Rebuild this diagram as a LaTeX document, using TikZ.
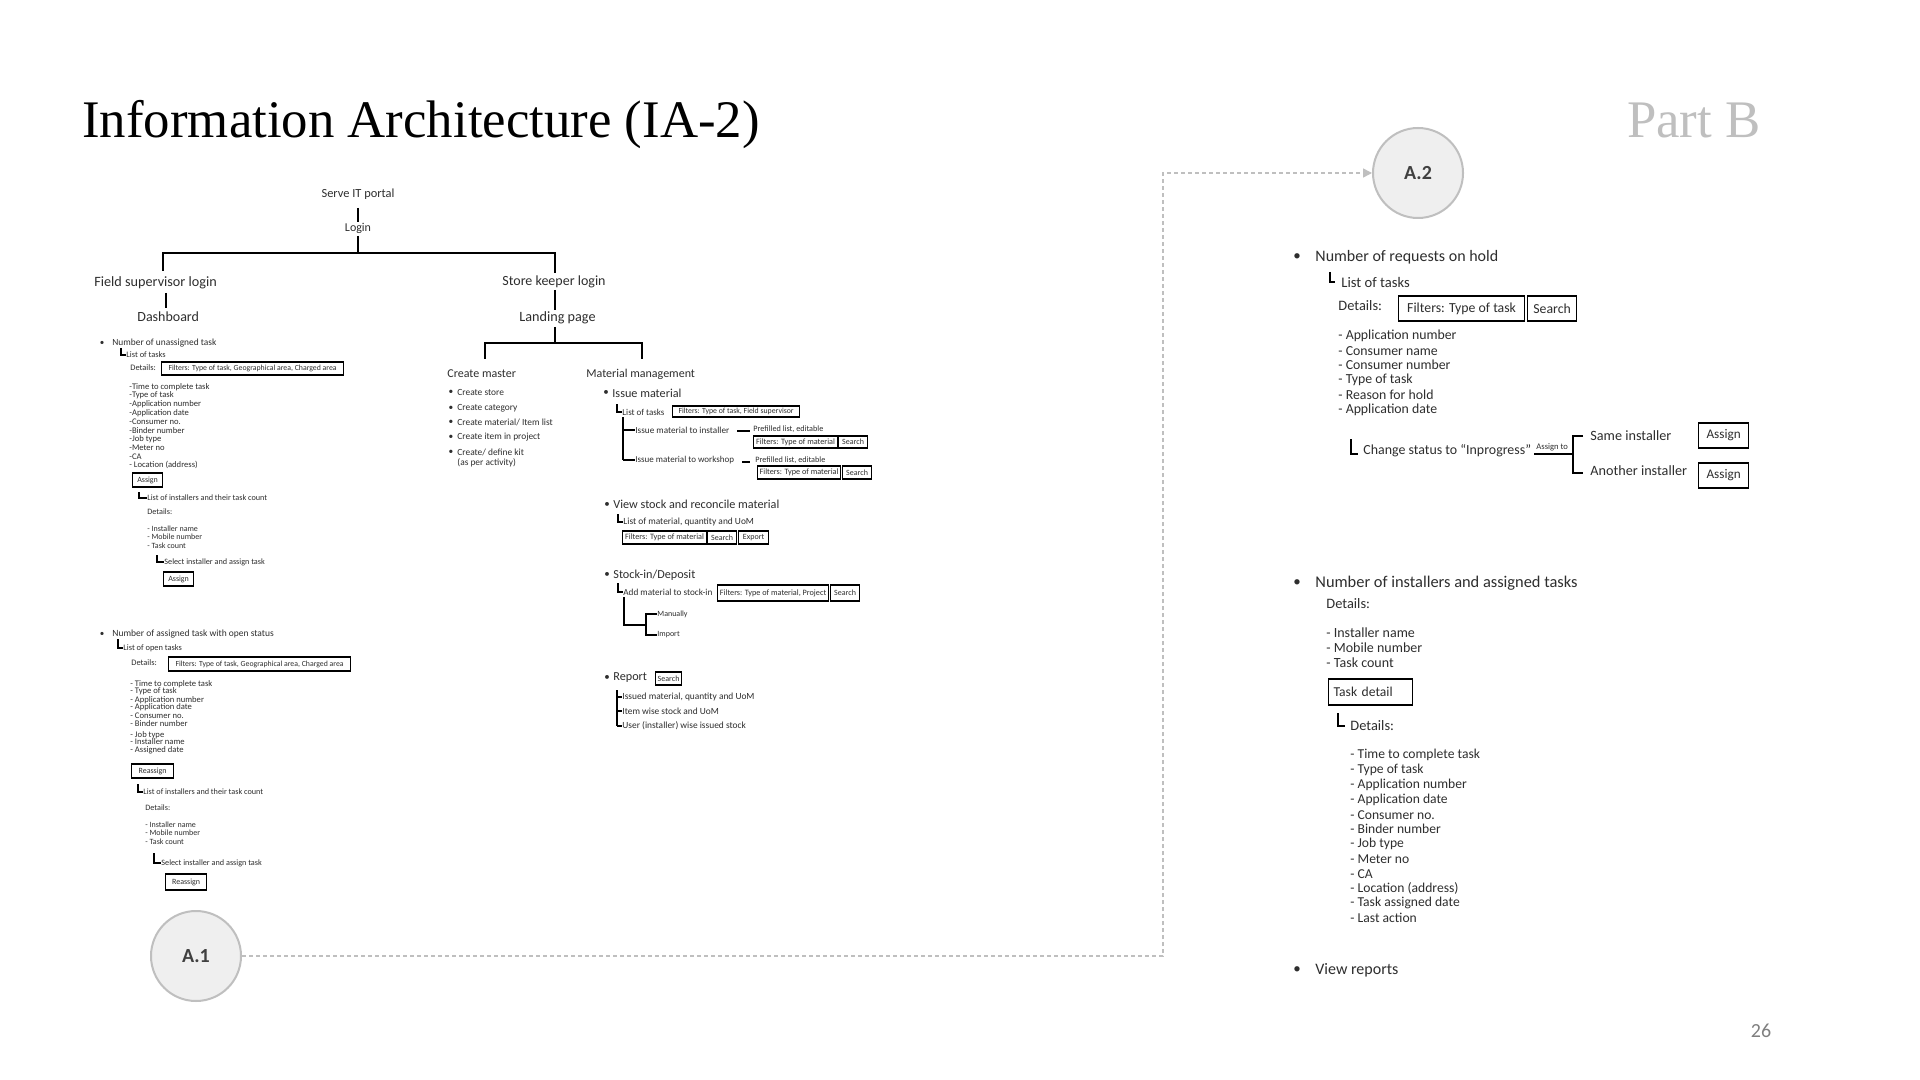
\documentclass[tikz,border=0pt]{standalone}
\usepackage{fontspec}
\setmainfont{Carlito}
\newfontfamily\titlefont{Liberation Serif}
\usetikzlibrary{arrows.meta}
\definecolor{txt}{HTML}{2E2E2E}
\definecolor{circfill}{HTML}{EFEFEF}
\definecolor{circline}{HTML}{BFBFBF}
\definecolor{partb}{HTML}{BFBFBF}
\definecolor{pgno}{HTML}{7F7F7F}
\newcommand\myfs[1]{\fontsize{#1pt}{#1pt}\selectfont}
\tikzset{
  lbl/.style={anchor=west, inner sep=0pt, text=txt, font=\myfs{#1}},
  ctr/.style={anchor=center, inner sep=0pt, text=txt, font=\myfs{#1}},
  bul/.style={anchor=center, inner sep=0pt, text=txt, font=\myfs{#1}},
  bx/.style={draw=black, line width=0.6pt, inner sep=0pt, anchor=west, text=txt, font=\myfs{#1}},
  wh/.style 2 args={minimum width=#1*0.5pt, minimum height=#2*0.5pt},
  tree/.style={line width=0.9pt, draw=black},
  conn/.style={line width=0.75pt, draw=black},
  circ/.style={circle, draw=circline, fill=circfill, line width=1pt, minimum size=45pt, inner sep=0pt, font=\bfseries\myfs{10}, text=black!75},
  dsh/.style={draw=circline, line width=0.75pt, dash pattern=on 2pt off 1.5pt}
}
\begin{document}
\begin{tikzpicture}[x=0.5pt,y=-0.5pt]
\fill[white] (0,0) rectangle (1920,1080);
\useasboundingbox (0,0) rectangle (1920,1080);

% title
\node[anchor=base west, inner sep=0pt, font=\titlefont\myfs{26.4}, text=black] (title) at (82,138) {Information Architecture (IA-2)};
\node[anchor=base east, inner sep=0pt, font=\titlefont\myfs{26.4}, text=partb] (partb) at (1761,138) {Part B};
\node[anchor=center, inner sep=0pt, font=\myfs{10}, text=pgno] (pg) at (1761,1031) {26};

% circles and dashed link
\node[circ] (a2) at (1418,173) {A.2};
\node[circ] (a1) at (196,956) {A.1};
\coordinate (d1) at (1163,956);
\coordinate (d2) at (1163,173);
\draw[dsh, -{Triangle[length=4.5pt,width=4.5pt]}] (a1.east) -- (d1) -- (d2) -- (a2.west);

% ---------------- top tree ----------------
\node[ctr=6.2] (serve) at (358,194) {Serve IT portal};
\node[ctr=6] (login) at (358,228) {Login};
\draw[tree] (358,208) -- (358,222);
\draw[tree] (358,236) -- (358,253);
\draw[tree] (163,271) -- (163,253) -- (555,253) -- (555,273);
\node[lbl=7.1] (fsl) at (94,283) {Field supervisor login};
\draw[tree] (166,293) -- (166,308);
\node[lbl=7] (dash) at (137,317) {Dashboard};
\node[lbl=7] (skl) at (502,282) {Store keeper login};
\draw[tree] (555,290) -- (555,310);
\node[lbl=7.1] (land) at (519,318) {Landing page};
\draw[tree] (555,327) -- (555,343);
\draw[tree] (485,359) -- (485,343) -- (642,343) -- (642,359);

% ---------------- Create master ----------------
\node[lbl=6] (cm) at (447,374) {Create master};
\node[bul=4.7] (cb1) at (451,392) {•};
\node[lbl=4.7] (c1) at (457,392) {Create store};
\node[bul=4.7] (cb2) at (451,408) {•};
\node[lbl=4.7] (c2) at (457,408) {Create category};
\node[bul=4.7] (cb3) at (451,422.5) {•};
\node[lbl=4.7] (c3) at (457,422.5) {Create material/ Item list};
\node[bul=4.7] (cb4) at (451,437) {•};
\node[lbl=4.7] (c4) at (457,437) {Create item in project};
\node[bul=4.7] (cb5) at (451,452) {•};
\node[lbl=4.7] (c5) at (457,452) {Create/ define kit};
\node[lbl=4.7] (c6) at (457,463) {(as per activity)};

% ---------------- Material management ----------------
\node[lbl=6] (mm) at (586,374) {Material management};
\node[bul=5.5] (mb1) at (606,393) {•};
\node[lbl=6.1] (im) at (612,393) {Issue material};
\node[lbl=4.5] (imlot) at (622,412) {List of tasks};
\draw[conn] (617,404) |- (imlot.west);
\node[bx=3.9, wh={127}{11}] (imf) at (672,411.5) {Filters: Type of task, Field supervisor};
\draw[conn] (623,417) -- (623,460);
\node[lbl=4.6] (imi) at (635,430) {Issue material to installer};
\draw[conn] (623,430) -- (imi.west);
\draw[conn] (737,431) -- (750,431);
\node[lbl=4.1] (pl1) at (753,429) {Prefilled list, editable};
\node[bx=4.1, wh={84}{12}] (pf1) at (753,442) {Filters: Type of material};
\node[bx=4, wh={29}{12}] (ps1) at (838,442) {Search};
\node[lbl=4.5] (imw) at (635,460) {Issue material to workshop};
\draw[conn] (623,460) -- (imw.west);
\draw[conn] (742,462) -- (750,462);
\node[lbl=4.1] (pl2) at (755,460) {Prefilled list, editable};
\node[bx=4.1, wh={83}{13}] (pf2) at (757,472.5) {Filters: Type of material};
\node[bx=4, wh={29}{13}] (ps2) at (842,472.5) {Search};

\node[bul=5.5] (mb2) at (607,505) {•};
\node[lbl=6.1] (vs) at (613,504) {View stock and reconcile material};
\node[lbl=4.7] (vsl) at (623,522) {List of material, quantity and UoM};
\draw[conn] (618,514) |- (vsl.west);
\node[bx=4.1, wh={84}{13}] (vf) at (622,537.5) {Filters: Type of material};
\node[bx=4, wh={29}{13}] (vsr) at (707,537.5) {Search};
\node[bx=4, wh={30}{13}] (vex) at (738,537.5) {Export};

\node[bul=5.5] (mb3) at (607,575) {•};
\node[lbl=6.1] (si) at (613,575) {Stock-in/Deposit};
\node[lbl=4.6] (sia) at (623,592) {Add material to stock-in};
\draw[conn] (618,583) |- (sia.west);
\node[bx=4.1, wh={111}{16}] (sif) at (717,593) {Filters: Type of material, Project};
\node[bx=4, wh={29}{16}] (sis) at (830,593) {Search};
\draw[conn] (624,597) -- (624,625) -- (646,625);
\node[lbl=4] (man) at (657,614) {Manually};
\node[lbl=4] (imp) at (657,635) {Import};
\draw[conn] (man.west) -- (646,614) -- (646,635) -- (imp.west);

\node[bul=5.5] (mb4) at (607,678) {•};
\node[lbl=6.1] (rep) at (613,678) {Report};
\node[bx=4, wh={26}{13}] (rs) at (655,678.5) {Search};
\draw[conn] (617,690) -- (617,726);
\node[lbl=4.7] (r1) at (622,697) {Issued material, quantity and UoM};
\node[lbl=4.7] (r2) at (622,711) {Item wise stock and UoM};
\node[lbl=4.7] (r3) at (622,726) {User (installer) wise issued stock};
\draw[conn] (617,697) -- (r1.west);
\draw[conn] (617,711) -- (r2.west);
\draw[conn] (617,726) -- (r3.west);

% ---------------- Left column (A.1) part 1 ----------------
\node[bul=4.5] (lb1) at (102,343) {•};
\node[lbl=4.7] (un) at (112,343) {Number of unassigned task};
\node[lbl=4.2] (unl) at (126,355) {List of tasks};
\draw[conn] (121,348) |- (unl.west);
\node[lbl=4.2] (und) at (130,368) {Details:};
\node[bx=3.9, wh={182}{13}] (unf) at (161,368.5) {Filters: Type of task, Geographical area, Charged area};
\node[lbl=4.3] (u1) at (129,387) {-Time to complete task};
\node[lbl=4.3] (u2) at (129,395.7) {-Type of task};
\node[lbl=4.3] (u3) at (129,404.3) {-Application number};
\node[lbl=4.3] (u4) at (129,413) {-Application date};
\node[lbl=4.3] (u5) at (129,421.7) {-Consumer no.};
\node[lbl=4.3] (u6) at (129,430.3) {-Binder number};
\node[lbl=4.3] (u7) at (129,439) {-Job type};
\node[lbl=4.3] (u8) at (129,447.7) {-Meter no};
\node[lbl=4.3] (u9) at (129,456.3) {-CA};
\node[lbl=4.3] (u10) at (129,465) {- Location (address)};
\node[bx=4, wh={30}{14}] (ua) at (132,480) {Assign};
\node[lbl=4.1] (uli) at (147,498) {List of installers and their task count};
\draw[conn] (139,492) |- (uli.west);
\node[lbl=4.1] (uld) at (147,512) {Details:};
\node[lbl=4] (ui1) at (147,529) {- Installer name};
\node[lbl=4] (ui2) at (147,537) {- Mobile number};
\node[lbl=4] (ui3) at (147,546) {- Task count};
\node[lbl=4.1] (us) at (164,562) {Select installer and assign task};
\draw[conn] (157,555) |- (us.west);
\node[bx=4, wh={30}{14}] (ua2) at (163,579) {Assign};

% ---------------- Left column part 2 ----------------
\node[bul=4.5] (lb2) at (102,634) {•};
\node[lbl=4.75] (as) at (112,634) {Number of assigned task with open status};
\node[lbl=4.2] (asl) at (123,648) {List of open tasks};
\draw[conn] (118,639) |- (asl.west);
\node[lbl=4.2] (asd) at (131,663) {Details:};
\node[bx=3.9, wh={182}{14}] (asf) at (168,664) {Filters: Type of task, Geographical area, Charged area};
\node[lbl=4.3] (a01) at (130,684) {- Time to complete task};
\node[lbl=4.3] (a02) at (130,691.5) {- Type of task};
\node[lbl=4.3] (a03) at (130,700) {- Application number};
\node[lbl=4.3] (a04) at (130,707.5) {- Application date};
\node[lbl=4.3] (a05) at (130,716) {- Consumer no.};
\node[lbl=4.3] (a06) at (130,724) {- Binder number};
\node[lbl=4.3] (a07) at (130,735) {- Job type};
\node[lbl=4.3] (a08) at (130,742) {- Installer name};
\node[lbl=4.3] (a09) at (130,750) {- Assigned date};
\node[bx=4, wh={42}{14}] (ar) at (131,771) {Reassign};
\node[lbl=4.1] (ali) at (143,792) {List of installers and their task count};
\draw[conn] (138,784) |- (ali.west);
\node[lbl=4.1] (ald) at (145,808) {Details:};
\node[lbl=4] (ai1) at (145,825) {- Installer name};
\node[lbl=4] (ai2) at (145,833) {- Mobile number};
\node[lbl=4] (ai3) at (145,842) {- Task count};
\node[lbl=4.1] (asel) at (161,863) {Select installer and assign task};
\draw[conn] (154,853) |- (asel.west);
\node[bx=4, wh={41}{16}] (ar2) at (165,882) {Reassign};

% ---------------- Right side (A.2) ----------------
\node[bul=7.5] (rb1) at (1297,257) {•};
\node[lbl=8] (hold) at (1315,257) {Number of requests on hold};
\node[lbl=7.3] (hl) at (1341,282) {List of tasks};
\draw[conn] (1330,272) |- ([xshift=-3pt]hl.west);
\node[lbl=7.2] (hd) at (1338,306) {Details:};
\node[bx=6.9, wh={126}{25}] (hf) at (1398,308.5) {Filters: Type of task};
\node[bx=6.9, wh={49}{25}] (hs) at (1527,308.5) {Search};
\node[lbl=6.9] (h1) at (1338,336) {- Application number};
\node[lbl=6.9] (h2) at (1338,351) {- Consumer name};
\node[lbl=6.9] (h3) at (1338,365) {- Consumer number};
\node[lbl=6.9] (h4) at (1338,380) {- Type of task};
\node[lbl=6.9] (h5) at (1338,395) {- Reason for hold};
\node[lbl=6.9] (h6) at (1338,410) {- Application date};
\node[lbl=6.95] (hc) at (1363,451) {Change status to “Inprogress”};
\draw[conn] (1351,439) -- (1351,454) -- (1358,454);
\node[lbl=4.3] (hat) at (1536,447) {Assign to};
\draw[conn] (1534,454) -- (1573,454);
\node[lbl=7.1] (hsame) at (1590,436) {Same installer};
\node[lbl=7.1] (hanot) at (1590,471) {Another installer};
\draw[conn] (1583,436) -- (1573,436) -- (1573,473) -- (1583,473);
\node[bx=6.6, wh={50}{25}] (has1) at (1698,435.5) {Assign};
\node[bx=6.6, wh={50}{25}] (has2) at (1698,475.5) {Assign};

\node[bul=7.5] (rb2) at (1297,583) {•};
\node[lbl=8.2] (inst) at (1315,583) {Number of installers and assigned tasks};
\node[lbl=7.2] (id) at (1326,604) {Details:};
\node[lbl=7] (i1) at (1326,633) {- Installer name};
\node[lbl=7] (i2) at (1326,648) {- Mobile number};
\node[lbl=7] (i3) at (1326,663) {- Task count};
\node[draw=black, line width=0.6pt, anchor=west, text=txt, font=\myfs{6.8}, text width=37pt, inner xsep=2.5pt, inner ysep=0pt, minimum height=13pt, align=left] (td) at (1328,692) {Task detail};
\node[lbl=7.2] (tdd) at (1350,726) {Details:};
\draw[conn] (1338,713) |- ([xshift=-2.5pt]tdd.west);
\node[lbl=6.8] (t01) at (1350,755) {- Time to complete task};
\node[lbl=6.8] (t02) at (1350,770) {- Type of task};
\node[lbl=6.8] (t03) at (1350,785) {- Application number};
\node[lbl=6.8] (t04) at (1350,800) {- Application date};
\node[lbl=6.8] (t05) at (1350,815) {- Consumer no.};
\node[lbl=6.8] (t06) at (1350,829) {- Binder number};
\node[lbl=6.8] (t07) at (1350,844) {- Job type};
\node[lbl=6.8] (t08) at (1350,859) {- Meter no};
\node[lbl=6.8] (t09) at (1350,874) {- CA};
\node[lbl=6.8] (t10) at (1350,888) {- Location (address)};
\node[lbl=6.8] (t11) at (1350,903) {- Task assigned date};
\node[lbl=6.8] (t12) at (1350,918) {- Last action};

\node[bul=7.5] (rb3) at (1297,970) {•};
\node[lbl=8] (vr) at (1315,970) {View reports};
\end{tikzpicture}
\end{document}
